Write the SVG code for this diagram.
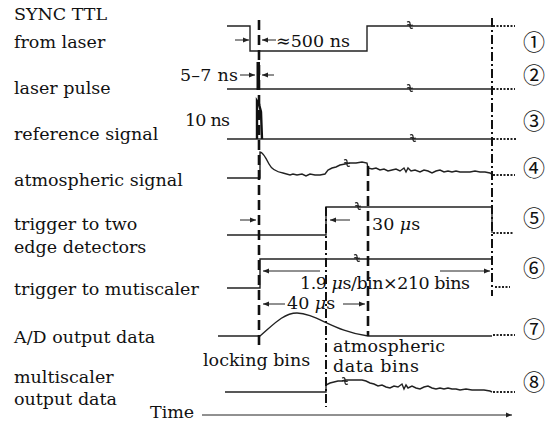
<svg xmlns="http://www.w3.org/2000/svg" width="552" height="425" viewBox="0 0 552 425">
<style>
text{font-family:"DejaVu Serif","Liberation Serif",serif;font-size:17.5px;fill:#111}
.num{font-family:"Noto Sans CJK SC","DejaVu Sans",sans-serif;font-size:22px;text-anchor:middle}
.sig{fill:none;stroke:#222;stroke-width:1.4}
.dot{fill:none;stroke:#222;stroke-width:2;stroke-dasharray:2 1.5}
.dash{fill:none;stroke:#111;stroke-width:2.6;stroke-dasharray:10 5}
.dd{fill:none;stroke:#111;stroke-width:2;stroke-dasharray:9 3 2 3}
.arr{fill:none;stroke:#222;stroke-width:1;marker-end:url(#ah)}
.brk{fill:none;stroke:#222;stroke-width:1.2}
</style>
<defs>
<marker id="ah" viewBox="0 0 10 10" refX="10" refY="5" markerWidth="8" markerHeight="6" orient="auto" markerUnits="userSpaceOnUse"><path d="M0,1 L10,5 L0,9 Z" fill="#222"/></marker>
<g id="bk"><path class="brk" d="M-3,-3 q3,-1 3,1.5 q0,2.5 3,1.5 M-3,0 q3,-1 3,1.5 q0,2.5 3,1.5"/></g>
</defs>

<g id="labels">
<text x="14" y="20">SYNC TTL</text>
<text x="14" y="48">from laser</text>
<text x="14" y="94">laser pulse</text>
<text x="14" y="140">reference signal</text>
<text x="14" y="186">atmospheric signal</text>
<text x="14" y="230">trigger to two</text>
<text x="14" y="253">edge detectors</text>
<text x="14" y="295">trigger to mutiscaler</text>
<text x="14" y="343">A/D output data</text>
<text x="14" y="383">multiscaler</text>
<text x="14" y="405">output data</text>
<text x="150" y="418">Time</text>
</g>

<g id="numbers">
<text class="num" x="534" y="50">①</text>
<text class="num" x="534" y="83">②</text>
<text class="num" x="534" y="129">③</text>
<text class="num" x="534" y="176">④</text>
<text class="num" x="534" y="226">⑤</text>
<text class="num" x="534" y="276">⑥</text>
<text class="num" x="534" y="337">⑦</text>
<text class="num" x="534" y="390">⑧</text>
</g>

<g id="sync-ttl">
<path class="sig" d="M227,26 H250 V51 H367 V26 H492"/>
<path class="dot" d="M493,26 H515"/>
<use href="#bk" x="410" y="25"/>
</g>

<g id="laser-pulse">
<path class="sig" d="M227,89 H492"/>
<rect x="256.5" y="62" width="3.5" height="28" fill="#111"/>
<path class="dot" d="M493,89 H515"/>
<use href="#bk" x="410" y="88"/>
</g>

<g id="reference-signal">
<path class="sig" d="M227,139 H492"/>
<path d="M257,139 L257,101 L259,104 L261,112 L262,139" fill="none" stroke="#111" stroke-width="2.4"/>
<path class="dot" d="M493,139 H517"/>
<use href="#bk" x="413" y="138"/>
</g>

<g id="atmospheric-signal">
<path class="sig" d="M227,178 H260 V152 C262,152 266,158 269,164 C272,170 277,172 283,173 L290,175 293,174 297,175 302,174 306,176 310,174 315,175 320,175 325,174 328,170 332,168 336,167 340,165 345,164 350,163 356,163 362,162 367,163 L368,168 372,169 376,168 380,170 384,169 388,171 392,170 396,169 400,171 404,168 406,172 408,168 411,171 415,170 420,172 424,170 428,171 432,173 436,171 440,170 444,172 448,171 452,172 456,171 460,172 465,172 470,172 475,171 480,172 485,172 490,173 492,174"/>
<path class="dot" d="M493,175 H515"/>
<use href="#bk" x="347" y="163"/>
</g>

<g id="trigger-edge">
<path class="sig" d="M227,235 H326 V207 H492 V233"/>
<path class="dot" d="M493,233 H514"/>
<use href="#bk" x="358" y="206"/>
</g>

<g id="trigger-multiscaler">
<path class="sig" d="M227,288 H260 V259 H492"/>
<path class="dot" d="M495,287 H510"/>
<use href="#bk" x="357" y="258"/>
</g>

<g id="ad-output">
<path class="sig" d="M218,336 H260 C272,326 283,313 297,313 C315,313 335,332 368,336 H492"/>
<path class="dot" d="M493,335 H515"/>
</g>

<g id="multiscaler-output">
<path class="sig" d="M225,392 H326 V385 L330,383 334,382 338,381 342,381 346,380 352,380 358,380 362,380 366,381 370,383 374,384 378,386 382,385 386,387 390,388 394,386 398,387 402,384 404,389 406,385 408,388 412,386 416,388 420,389 424,387 428,386 432,388 436,389 440,388 444,389 448,388 452,389 456,389 460,390 466,389 472,390 478,390 484,390 490,391 492,392"/>
<path class="dot" d="M493,392 H515"/>
<use href="#bk" x="345" y="381"/>
</g>

<g id="connectors">
<path class="dash" d="M259,20 V345"/>
<path class="dash" d="M368,166 V336"/>
<path class="dd" d="M326,207 V407"/>
<path class="dd" d="M492,18 V296"/>
<path class="arr" d="M235,40 H249"/>
<path class="arr" d="M276,40 H262"/>
<path class="arr" d="M240,75 H255"/>
<path class="arr" d="M274,75 H262"/>
<path class="arr" d="M240,220 H256"/>
<path class="arr" d="M350,220 H330"/>
<path class="arr" d="M320,271 H263"/>
<path class="arr" d="M440,271 H490"/>
<path class="arr" d="M285,304 H263"/>
<path class="arr" d="M343,304 H365"/>
<path class="arr" d="M202,415 H512"/>
</g>

<g id="annotations">
<text x="276" y="47" textLength="74">≈500 ns</text>
<text x="180" y="81" textLength="58">5–7 ns</text>
<text x="185" y="126" textLength="45">10 ns</text>
<text x="372" y="230">30 <tspan font-style="italic">μ</tspan>s</text>
<text x="300" y="289" textLength="170">1.9 <tspan font-style="italic">μ</tspan>s/bin×210 bins</text>
<text x="287" y="309">40 <tspan font-style="italic">μ</tspan>s</text>
<text x="203" y="366">locking bins</text>
<text x="333" y="352" textLength="112">atmospheric</text>
<text x="333" y="372" textLength="86">data bins</text>
</g>
</svg>
